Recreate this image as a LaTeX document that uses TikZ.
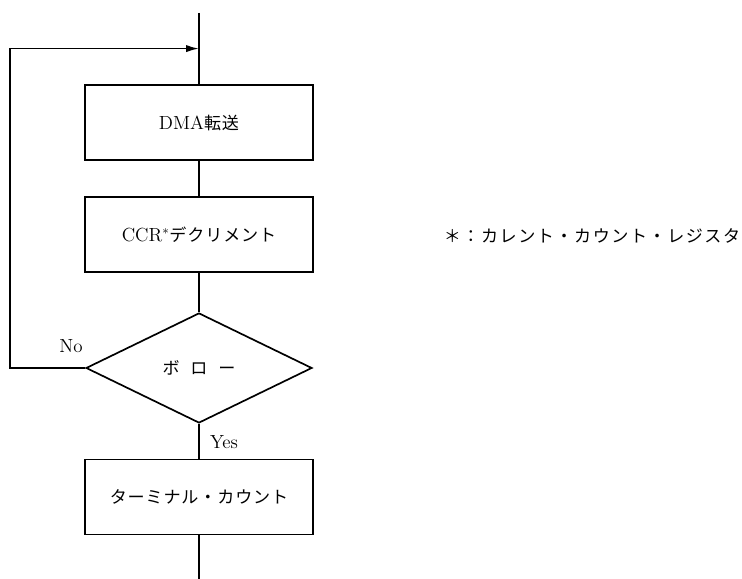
\documentclass[tikz,border=0pt]{standalone}
\usepackage{fontspec}
\newfontfamily\jp[Scale=0.9,LetterSpace=5]{Noto Sans CJK JP}
\newfontfamily\jpnote[Scale=0.9,LetterSpace=9]{Noto Sans CJK JP}
\usetikzlibrary{arrows.meta,shapes.geometric}

\begin{document}
\begin{tikzpicture}[
  x=1cm,y=1cm,
  line width=1.2pt,
  every node/.style={font=\fontsize{13.5}{16}\selectfont},
  proc/.style={rectangle,draw,minimum width=5.7cm,minimum height=1.875cm,inner sep=0pt},
  cond/.style={diamond,draw,minimum width=5.65cm,minimum height=2.75cm,inner sep=0pt},
  arc/.style={-{Latex[length=3.2mm,width=1.8mm]}}
]
  \useasboundingbox (0,0) rectangle (18.55,14.475);
  \coordinate (in) at (4.975,14.15);
  \coordinate (join) at (4.975,13.26);
  \coordinate (loop) at (0.25,5.275);
  \coordinate (out) at (4.975,0);
  \node[proc] (dma) at (4.975,11.41) {DMA{\jp 転送}};
  \node[proc] (ccr) at (4.975,8.61) {CCR$^*${\jp デクリメント}};
  \node[cond] (borrow) at (4.975,5.275) {\jp ボ\hspace{2.7mm}ロ\hspace{2.7mm}ー};
  \node[proc] (tc) at (4.975,2.05) {\jp ターミナル・カウント};
  \node (no) at (1.775,5.825) {No};
  \node (yes) at (5.6,3.425) {Yes};
  \node[anchor=west,inner sep=0pt] (note) at (11.075,8.575) {\jpnote ＊：カレント・カウント・レジスタ};
  \draw (in) -- (dma);
  \draw (dma) -- (ccr);
  \draw (ccr) -- (borrow);
  \draw (borrow) -- (tc);
  \draw (tc) -- (out);
  \draw[arc] (borrow.west) -- (loop) |- (join);
\end{tikzpicture}
\end{document}
